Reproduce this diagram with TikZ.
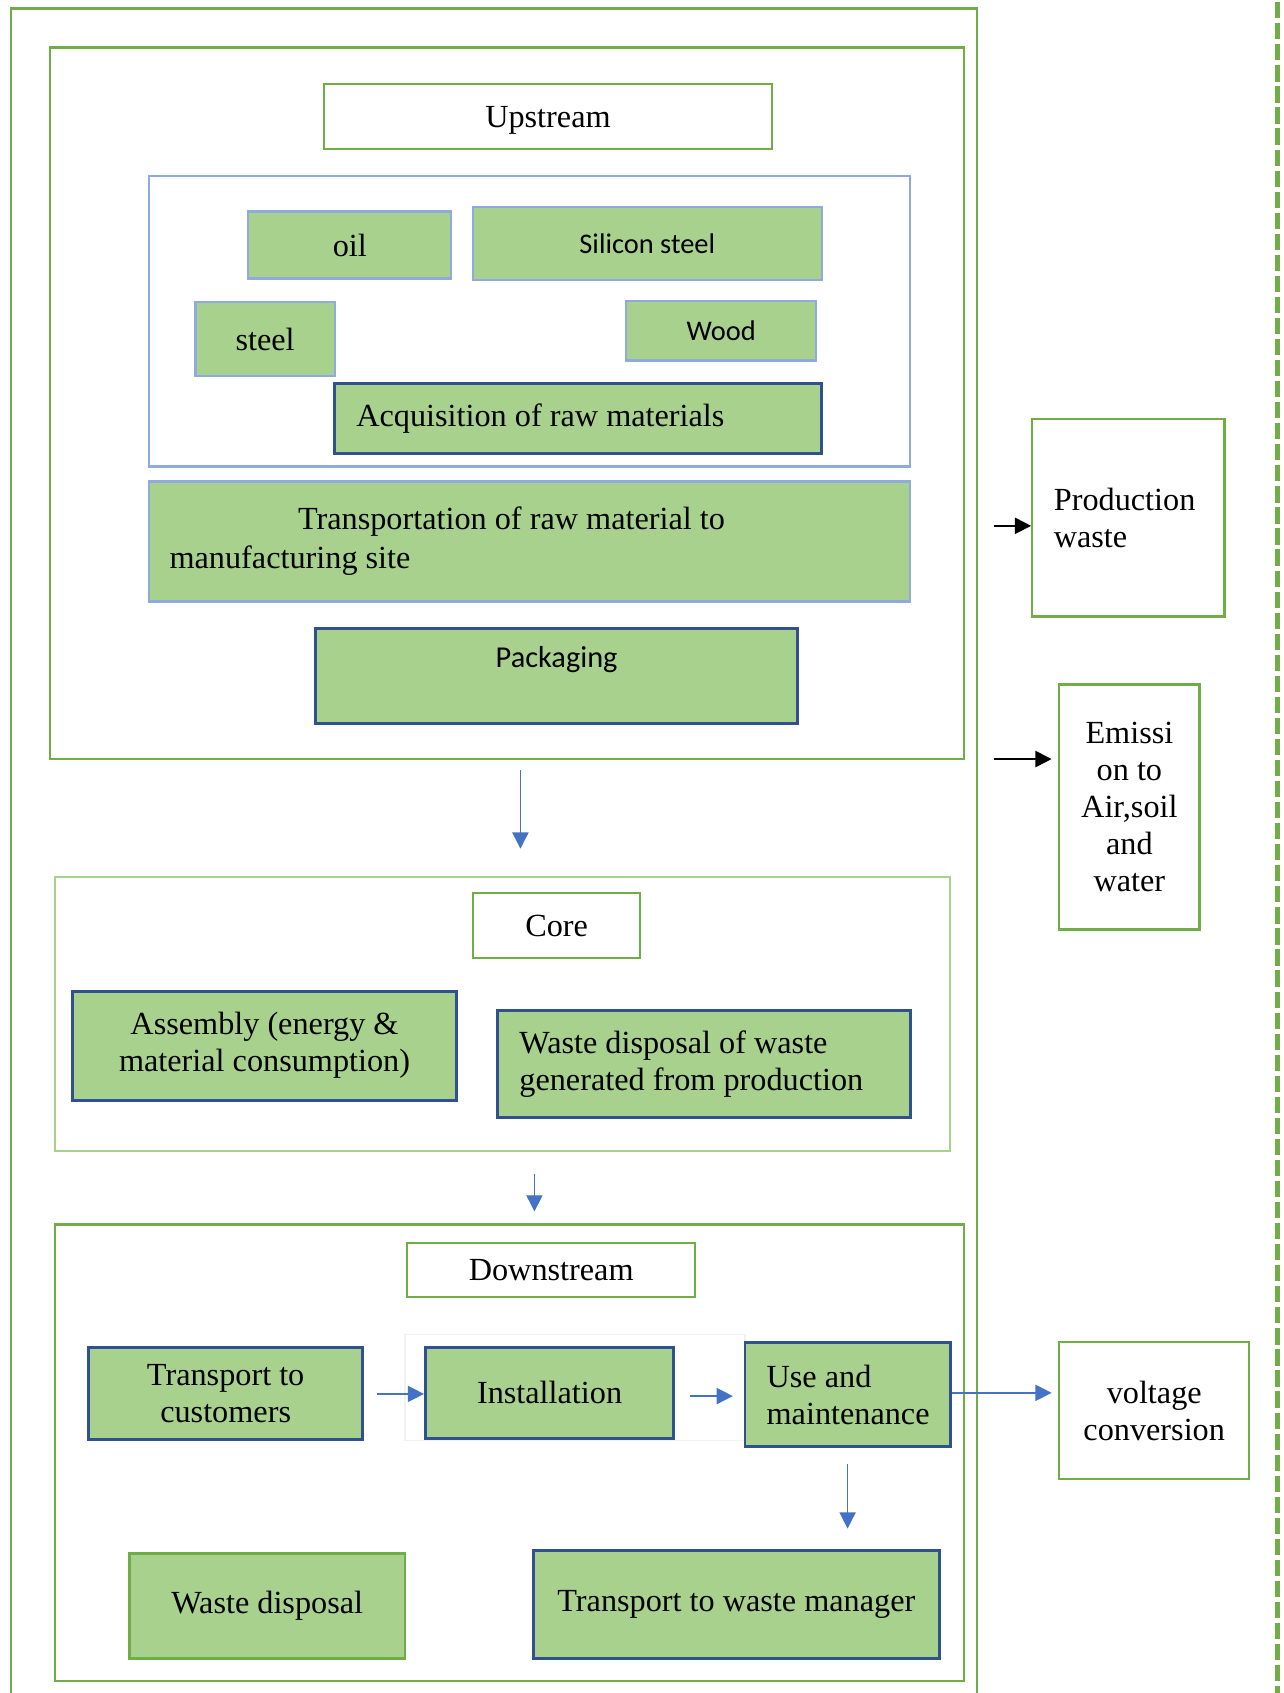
\documentclass[tikz,border=0pt]{standalone}
\usepackage{fontspec}
\setmainfont{Liberation Serif}
\newfontfamily\calibrifont{Carlito}
\usetikzlibrary{arrows.meta}
\definecolor{boxfill}{HTML}{A9D18E}
\definecolor{framegreen}{HTML}{70AD47}
\definecolor{palegreen}{HTML}{A9D18E}
\definecolor{darkblue}{HTML}{2F528F}
\definecolor{paleblue}{HTML}{8FAADC}
\definecolor{flowblue}{HTML}{4472C4}

\begin{document}
\begin{tikzpicture}[
        x=0.02cm, y=-0.02cm,
        font=\fontsize{17}{19.5}\selectfont,
        >={Triangle[length=0.3cm, width=0.3cm]},
        frame/.style={draw=framegreen, line width=1.2pt, inner sep=0pt},
        titlebox/.style={draw=framegreen, line width=1.2pt, fill=white, inner sep=0pt, text depth=0pt},
        pbox/.style={draw=paleblue, line width=1.2pt, fill=boxfill, inner sep=0pt, align=center},
        dbox/.style={draw=darkblue, line width=1.5pt, fill=boxfill, inner sep=0pt, align=center},
        gbox/.style={draw=framegreen, line width=1.4pt, fill=boxfill, inner sep=0pt, align=center},
        outbox/.style={draw=framegreen, line width=1.2pt, inner sep=0pt, align=center},
        flow/.style={->, draw=flowblue, line width=0.7pt},
        emit/.style={->, black, line width=0.9pt}
    ]
        \useasboundingbox (0,0) rectangle (1189,1568);

        % Outer frame and dashed border
        \draw[framegreen, line width=1.2pt] (10,1600) -- (10,8) -- (905,8) -- (905,1600);
        \draw[framegreen, line width=2.6pt, dash pattern=on 0.3cm off 0.09cm] (1183,2) -- (1183,1600);

        % Upstream
        \node[frame, minimum width=16.94cm, minimum height=13.18cm] (up) at (469.5,373.5) {};
        \node[titlebox, minimum width=8.3cm, minimum height=1.2cm] (uptitle) at (507.5,108) {Upstream};
        \node[draw=paleblue, line width=1.2pt, minimum width=14.1cm, minimum height=5.38cm] (raw) at (490.5,297.5) {};
        \node[pbox, minimum width=3.76cm, minimum height=1.24cm] (oil) at (324,227) {oil};
        \node[pbox, minimum width=6.46cm, minimum height=1.34cm, font=\calibrifont\fontsize{15}{18}\selectfont] (silicon) at (599.5,225.5) {Silicon steel};
        \node[pbox, minimum width=2.58cm, minimum height=1.36cm] (steel) at (245.5,314) {steel};
        \node[pbox, minimum width=3.52cm, minimum height=1.1cm, font=\calibrifont\fontsize{15}{18}\selectfont] (wood) at (668,306.5) {Wood};
        \node[dbox, minimum height=1.3cm, inner xsep=0.4cm, text width=8.22cm, align=flush left] (acq) at (535.5,387.5) {Acquisition of raw materials};
        \node[pbox, minimum height=2.22cm, inner xsep=0.38cm, text width=13.34cm, align=flush left, font=\fontsize{17}{20.5}\selectfont] (transp) at (490.5,501.5) {\hspace*{2.38cm}Transportation of raw material to\\manufacturing site};
        \node[dbox, minimum width=8.94cm, minimum height=1.76cm, text height=0.4cm, text depth=0.7cm, font=\calibrifont\fontsize{16}{19}\selectfont] (pack) at (515.5,626) {Packaging};

        % Core
        \node[draw=palegreen, line width=1.2pt, minimum width=16.58cm, minimum height=5.08cm] (core) at (465.5,939) {};
        \node[titlebox, minimum width=3.1cm, minimum height=1.2cm] (coretitle) at (515.5,857) {Core};
        \node[dbox, minimum width=7.12cm, minimum height=2.02cm] (assembly) at (245,968.5) {Assembly (energy \&\\material consumption)};
        \node[dbox, minimum height=1.98cm, inner xsep=0.4cm, text width=6.84cm, align=flush left] (wasteprod) at (652,985.5) {Waste disposal of waste\\generated from production};

        % Downstream
        \node[frame, minimum width=16.84cm, minimum height=8.46cm] (down) at (472,1345.5) {};
        \node[titlebox, minimum width=5.34cm, minimum height=1.0cm] (downtitle) at (510.5,1176) {Downstream};
        \node[draw=black!5, line width=0.6pt, minimum width=6.3cm, minimum height=1.96cm] (panel) at (532.5,1285) {};
        \node[dbox, minimum width=5.08cm, minimum height=1.7cm] (tcust) at (209,1290.5) {Transport to\\customers};
        \node[dbox, minimum width=4.6cm, minimum height=1.68cm] (install) at (509,1290) {Installation};
        \node[dbox, minimum height=1.94cm, inner xsep=0.4cm, text width=3.0cm, align=flush left] (use) at (785,1291.5) {Use and\\maintenance};
        \node[gbox, minimum width=5.1cm, minimum height=1.94cm] (wdisp) at (247.5,1487.5) {Waste disposal};
        \node[dbox, minimum width=7.52cm, minimum height=2.0cm] (twaste) at (682,1486) {Transport to waste manager};

        % Outputs
        \node[outbox, minimum height=3.66cm, inner xsep=0.4cm, text width=2.76cm, align=flush left] (prodwaste) at (1045,479.5) {Production\\waste};
        \node[outbox, minimum width=2.6cm, minimum height=4.54cm] (emission) at (1046,747.5) {Emissi\\on to\\Air,soil\\and\\water};
        \node[outbox, minimum width=3.52cm, minimum height=2.54cm] (voltage) at (1069,1306.5) {voltage\\conversion};

        % Flow arrows
        \coordinate (a1) at (482,0);
        \coordinate (a2) at (495,0);
        \draw[flow] ([yshift=-0.18cm]up.south -| a1) -- ([yshift=0.5cm]core.north -| a1);
        \draw[flow] ([yshift=-0.4cm]core.south -| a2) -- ([yshift=0.22cm]down.north -| a2);
        \draw[flow, shorten <=0.24cm] (tcust.east |- 0,1291) -- (install.west |- 0,1291);
        \draw[flow, shorten <=0.28cm, shorten >=0.2cm] (install.east |- 0,1293) -- (use.west |- 0,1293);
        \draw[flow, shorten >=0.12cm] (use.east |- 0,1290) -- (voltage.west |- 0,1290);
        \draw[flow, shorten <=0.3cm, shorten >=0.38cm] (use.south) -- (use.south |- twaste.north);

        % Emission arrows
        \coordinate (e1) at (921,487);
        \coordinate (e2) at (921,703);
        \draw[emit] (e1) -- (e1 -| prodwaste.west);
        \draw[emit, shorten >=0.12cm] (e2) -- (e2 -| emission.west);
    \end{tikzpicture}
\end{document}
